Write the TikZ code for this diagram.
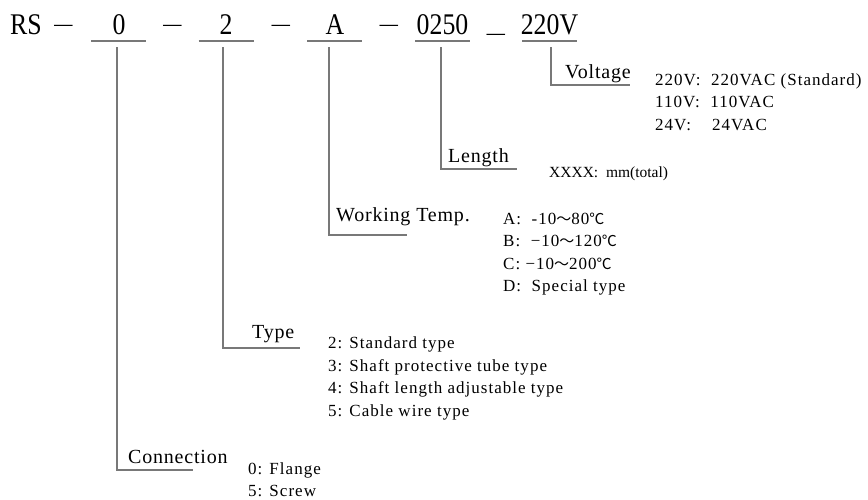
\documentclass[tikz,border=0pt]{standalone}
\usepackage{fontspec}
\setmainfont{Liberation Serif}
\newfontfamily\codefont[FakeStretch=0.86]{Liberation Serif}
\newfontfamily\labfont[LetterSpace=4]{Liberation Serif}
\newfontfamily\optfont[LetterSpace=6]{Liberation Serif}
\newfontfamily\cjk{Noto Sans CJK SC}
\usetikzlibrary{calc}
\definecolor{leadgray}{RGB}{120,120,120}
\newcommand{\tl}{{\cjk\fontsize{15}{16}\selectfont ～}}
\newcommand{\dc}{{\cjk\fontsize{15}{16}\selectfont ℃}}

\begin{document}
\begin{tikzpicture}[x=1pt,y=-1pt,
  lead/.style={draw=leadgray,line width=1.2pt},
  code/.style={anchor=base,inner sep=0pt,font=\codefont\fontsize{30}{32}\selectfont},
  lab/.style={anchor=base west,inner sep=0pt,font=\labfont\fontsize{20}{22}\selectfont},
  opt/.style={anchor=base west,inner sep=0pt,font=\optfont\fontsize{17}{19}\selectfont}]
  \useasboundingbox (0,0) rectangle (868,499);
  % model code
  \node[code,anchor=base west] (rs) at (10,34) {RS};
  \node[code] (d1) at (63.5,31.5) {\scalebox{1.4}[0.8]{–}};
  \node[code] (c0) at (119,34) {0};
  \node[code] (d2) at (172.5,31.5) {\scalebox{1.4}[0.8]{–}};
  \node[code] (c2) at (226,34) {2};
  \node[code] (d3) at (281,31.5) {\scalebox{1.4}[0.8]{–}};
  \node[code] (cA) at (335,34) {A};
  \node[code] (d4) at (389,31.5) {\scalebox{1.4}[0.8]{–}};
  \node[code] (cL) at (442.5,34) {0250};
  \node[code] (d5) at (496,40) {\scalebox{1.4}[0.8]{–}};
  \node[code] (cV) at (549.5,34) {220V};
  \foreach \x in {118.5,226,334.5,442.5,549.5}
    \draw[lead] (\x-27.5,41) -- (\x+27.5,41);
  % leaders
  \coordinate (v0) at (117,47);   \coordinate (e0) at (193,470);
  \coordinate (v2) at (223,47);   \coordinate (e2) at (300,348);
  \coordinate (vA) at (329,47);   \coordinate (eA) at (407,235);
  \coordinate (vL) at (441,47);   \coordinate (eL) at (517,169);
  \coordinate (vV) at (551,47);   \coordinate (eV) at (630,85);
  \draw[lead] (v0) |- (e0);
  \draw[lead] (v2) |- (e2);
  \draw[lead] (vA) |- (eA);
  \draw[lead] (vL) |- (eL);
  \draw[lead] (vV) |- (eV);
  % labels
  \node[lab] (volt) at (565,78) {Voltage};
  \node[lab] (len) at (448,162) {Length};
  \node[lab] (temp) at (336,221) {Working Temp.};
  \node[lab] (type) at (252,338) {Type};
  \node[lab] (conn) at (128,463) {Connection};
  % options
  \foreach \t [count=\i from 0] in {220V:\ \ 220VAC (Standard),110V:\ \ 110VAC,24V:\ \ \ \ 24VAC}
    \node[opt] (volt\i) at (655,85+22.5*\i) {\t};
  \node[opt,font=\fontsize{15.5}{18}\selectfont] (len0) at (549,177) {XXXX:\ \ mm(total)};
  \foreach \t [count=\i from 0] in {A:\ \ -10\tl80\dc,B:\ \ −10\tl120\dc,C: −10\tl200\dc,D:\ \ Special type}
    \node[opt] (temp\i) at (503,224+22.5*\i) {\t};
  \foreach \t [count=\i from 0] in {2: Standard type,3: Shaft protective tube type,4: Shaft length adjustable type,5: Cable wire type}
    \node[opt] (type\i) at (328,348.5+22.7*\i) {\t};
  \foreach \t [count=\i from 0] in {0: Flange,5: Screw}
    \node[opt] (conn\i) at (248,474+22.5*\i) {\t};
\end{tikzpicture}
\end{document}
